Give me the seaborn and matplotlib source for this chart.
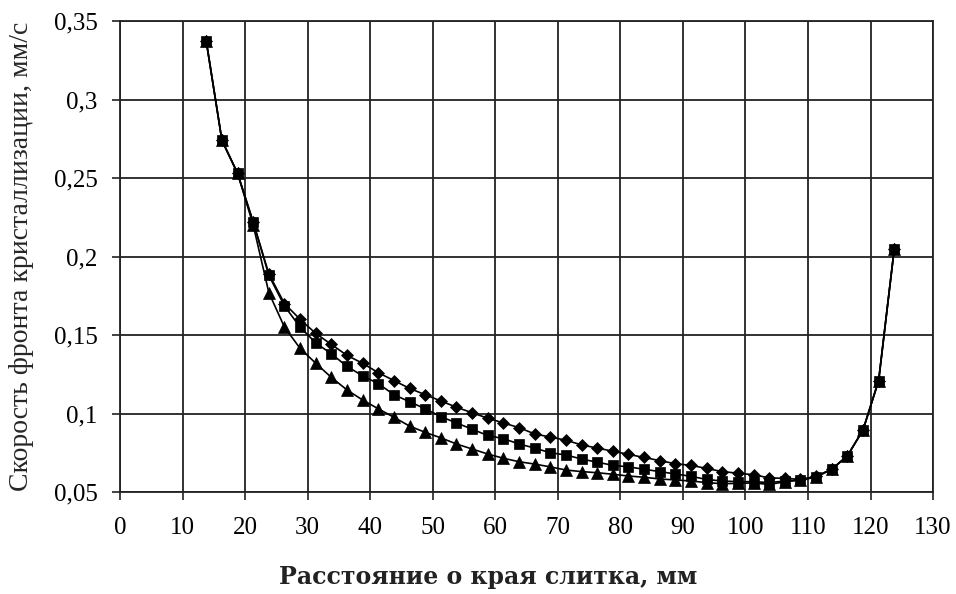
import matplotlib
matplotlib.use("Agg")
import matplotlib.pyplot as plt
import seaborn as sns
import pandas as pd
from matplotlib.ticker import FuncFormatter

x_mm = [13.8, 16.3, 18.8, 21.3, 23.8, 26.3, 28.8, 31.3, 33.8, 36.3, 38.8, 41.3, 43.8,
        46.3, 48.8, 51.3, 53.8, 56.3, 58.8, 61.3, 63.8, 66.3, 68.8, 71.3, 73.8, 76.3,
        78.8, 81.3, 83.8, 86.3, 88.8, 91.3, 93.8, 96.3, 98.8, 101.3, 103.8, 106.3,
        108.8, 111.3, 113.8, 116.3, 118.8, 121.3, 123.8]

v_diamond = [0.337, 0.274, 0.253, 0.222, 0.189, 0.170, 0.160, 0.151, 0.144, 0.137, 0.132,
             0.126, 0.121, 0.116, 0.112, 0.108, 0.104, 0.1005, 0.097, 0.094, 0.091, 0.087,
             0.085, 0.083, 0.080, 0.078, 0.076, 0.074, 0.072, 0.070, 0.068, 0.067, 0.065,
             0.063, 0.062, 0.061, 0.059, 0.0587, 0.058, 0.060, 0.0645, 0.073, 0.0895,
             0.121, 0.205]

v_square = [0.337, 0.274, 0.253, 0.222, 0.188, 0.1685, 0.155, 0.145, 0.138, 0.130, 0.124,
            0.119, 0.112, 0.1075, 0.103, 0.098, 0.094, 0.090, 0.086, 0.084, 0.0806, 0.078,
            0.075, 0.0736, 0.071, 0.069, 0.067, 0.066, 0.0645, 0.063, 0.0615, 0.060, 0.058,
            0.057, 0.0566, 0.0566, 0.056, 0.057, 0.0575, 0.0595, 0.0645, 0.073, 0.0895,
            0.121, 0.205]

v_triangle = [0.337, 0.274, 0.253, 0.220, 0.177, 0.155, 0.1415, 0.132, 0.123, 0.115, 0.1086,
              0.103, 0.0976, 0.092, 0.088, 0.0845, 0.0806, 0.0774, 0.0742, 0.0715, 0.0693,
              0.0678, 0.066, 0.064, 0.063, 0.0623, 0.0613, 0.0602, 0.0594, 0.0583, 0.0577,
              0.057, 0.056, 0.0553, 0.0555, 0.0558, 0.0548, 0.0565, 0.0577, 0.0598, 0.0645,
              0.073, 0.0895, 0.121, 0.205]

x_ticks = [0, 10, 20, 30, 40, 50, 60, 70, 80, 90, 100, 110, 120, 130]
y_ticks = [0.05, 0.1, 0.15, 0.2, 0.25, 0.3, 0.35]

sns.set_theme(style="white")
plt.rcParams['font.family'] = ['Liberation Serif', 'DejaVu Serif']

fig = plt.figure(figsize=(9.56, 5.94), dpi=100)
ax = fig.add_axes([0.1255, 0.1717, 0.8505, 0.7929])

series = [
    (v_diamond, "D", 6, 2),
    (v_triangle, "^", 8, 3),
    (v_square, "s", 7.5, 4),
]
for vals, mk, ms, z in series:
    df = pd.DataFrame({"x": x_mm, "y": vals})
    sns.lineplot(data=df, x="x", y="y", ax=ax, color="black", lw=1.2,
                 marker=mk, markersize=ms, markeredgecolor="black",
                 markeredgewidth=0.5, markerfacecolor="black", zorder=z, sort=False)

ax.set_xlim(0, 130)
ax.set_ylim(0.05, 0.35)
ax.set_xticks(x_ticks)
ax.set_yticks(y_ticks)

def fmt(v, pos):
    s = ("%.2f" % v).rstrip("0").rstrip(".")
    return s.replace(".", ",")

ax.yaxis.set_major_formatter(FuncFormatter(fmt))
ax.xaxis.set_major_formatter(FuncFormatter(lambda v, p: "%d" % v))

ax.grid(True, color="#222222", lw=1.3)
ax.set_axisbelow(True)
for sp in ax.spines.values():
    sp.set_visible(True)
    sp.set_color("#222222")
    sp.set_linewidth(1.3)

ax.tick_params(axis="both", which="major", direction="out", length=6, width=1.2,
               color="#222222", labelsize=18, labelcolor="black")
ax.tick_params(axis="y", pad=10)
ax.tick_params(axis="x", pad=12)
ax.tick_params(left=True, bottom=True)

ax.set_xlabel("Расстояние о края слитка, мм", fontsize=17, fontweight="bold",
              family=["DejaVu Serif"], color="#222222")
ax.xaxis.set_label_coords((488 - 120) / 813, -(577 - 492) / 471)
ax.xaxis.label.set_verticalalignment("center")
ax.set_ylabel("Скорость фронта кристаллизации, мм/с", fontsize=20)
ax.yaxis.set_label_coords(-(120 - 22) / 813, (492 - 256) / 471)
ax.yaxis.label.set_verticalalignment("center")

fig.savefig("out.png", dpi=100, facecolor="white")
